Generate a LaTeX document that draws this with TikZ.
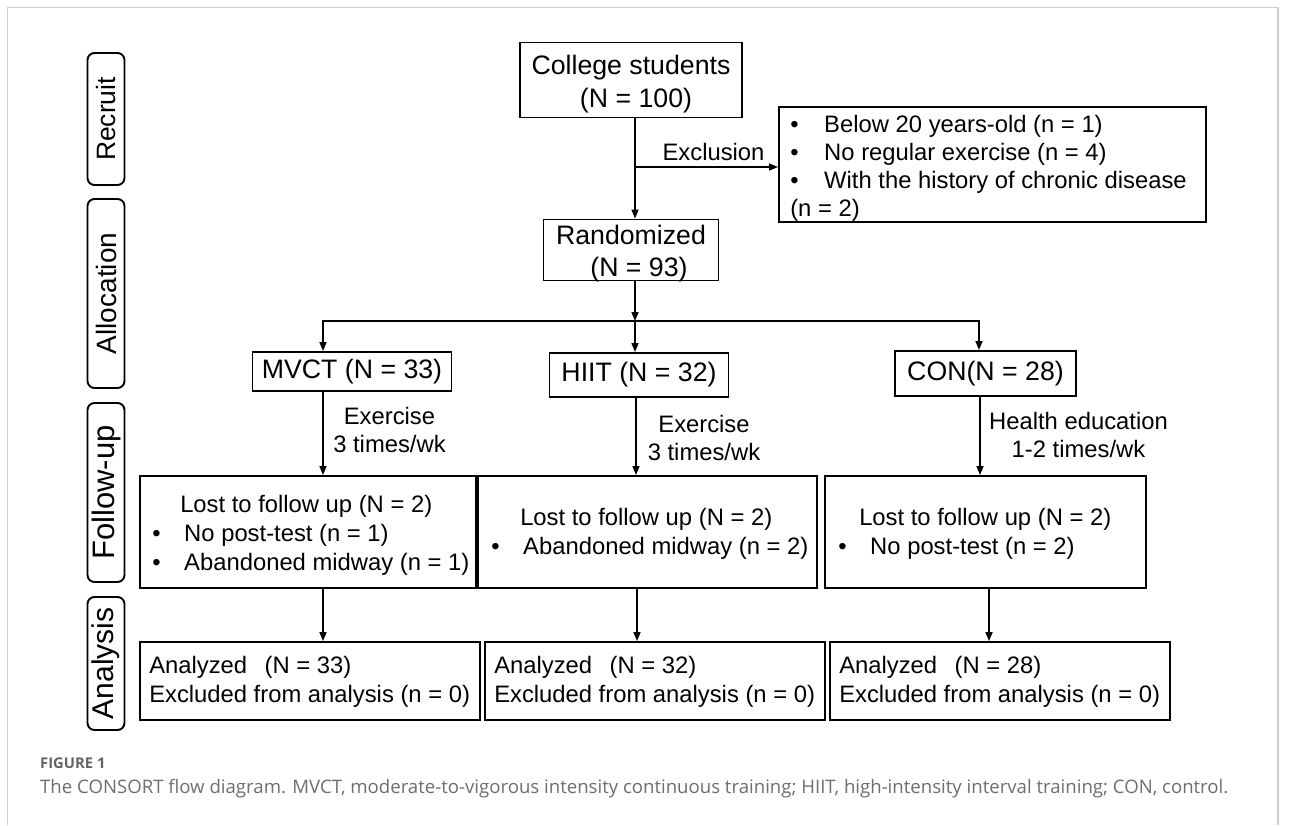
\documentclass[tikz,border=0pt]{standalone}
\usepackage{fontspec}
\setmainfont{Liberation Sans}
\newfontfamily\capfont{Open Sans}
\usetikzlibrary{arrows.meta,calc}
\definecolor{framegray}{RGB}{205,205,205}
\definecolor{capgray}{RGB}{110,110,110}
\definecolor{figgray}{RGB}{100,100,100}
\newcommand{\bul}[1]{\makebox[#1][l]{•}}
\tikzset{
  box/.style={draw, line width=1.9pt, inner sep=0pt, rectangle},
  side/.style={draw, line width=1.9pt, rounded corners=7pt, minimum height=37pt, inner sep=0pt, rotate=90},
  arr/.style={line width=1.6pt, -{Triangle[length=9pt,width=7pt]}},
  big/.style={font=\fontsize{26.7}{32.5}\selectfont},
  small/.style={font=\fontsize{23.8}{28.5}\selectfont},
  txt/.style={small, align=left, anchor=west, inner sep=0pt},
}
\begin{document}
\begin{tikzpicture}[x=1pt,y=-1pt]
\useasboundingbox (0,0) rectangle (1293,825);
\fill[white] (0,0) rectangle (1293,825);
\draw[framegray, line width=1.5pt] (7.5,825) -- (7.5,7.5) -- (1278,7.5) -- (1278,825);

% stage labels
\node[side, minimum width=132pt, font=\fontsize{26.5}{30}\selectfont] (recruit) at (106,119) {Recruit};
\node[side, minimum width=189pt, font=\fontsize{28}{32}\selectfont] (alloc) at (106,293.5) {Allocation};
\node[side, minimum width=179pt, font=\fontsize{31}{34}\selectfont] (follow) at (106,492.5) {Follow-up};
\node[side, minimum width=133pt, font=\fontsize{30}{34}\selectfont] (analysis) at (106,663.5) {Analysis};

% top boxes
\node[box, minimum width=222pt, minimum height=75pt] (college) at (631,80) {};
\node[big, align=center, inner sep=0pt] (collegetxt) at ($(college.center)+(0,4)$) {College students\\\hspace*{10pt}(N = 100)};
\node[box, minimum width=175pt, minimum height=61pt] (rand) at (631,250) {};
\node[big, align=center, inner sep=0pt] (randtxt) at ($(rand.center)+(0,3.5)$) {Randomized\\\hspace*{16pt}(N = 93)};
\node[box, minimum width=427pt, minimum height=115pt] (excl) at (992.5,164.5) {};
\node[txt, font=\fontsize{23.8}{28}\selectfont] (exclt) at ($(excl.west)+(12,3.5)$) {\bul{34pt}Below 20 years-old (n = 1)\\\bul{34pt}No regular exercise (n = 4)\\\bul{34pt}With the history of chronic disease\\(n = 2)};

% group boxes
\node[box, big, minimum width=199pt, minimum height=39pt] (mvct) at (352,371.5) {MVCT (N = 33)};
\node[box, big, minimum width=179pt, minimum height=44pt] (hiit) at (639,375) {HIIT (N = 32)};
\node[box, big, minimum width=181pt, minimum height=45pt] (con) at (985.5,373.5) {CON(N = 28)};

% follow-up boxes
\node[box, minimum width=336pt, minimum height=112pt] (fu1) at (308,532) {};
\node[box, minimum width=339pt, minimum height=112pt] (fu2) at (647.5,532) {};
\node[box, minimum width=321pt, minimum height=112pt] (fu3) at (985.5,532) {};
\node[txt, font=\fontsize{23.8}{29}\selectfont] (fu1t) at ($(fu1.west)+(13,3)$) {\hspace*{28pt}Lost to follow up (N = 2)\\\bul{32pt}No post-test (n = 1)\\\bul{32pt}Abandoned midway (n = 1)};
\node[txt] (fu2t) at ($(fu2.west)+(14,2)$) {\hspace*{29pt}Lost to follow up (N = 2)\\\bul{32pt}Abandoned midway (n = 2)};
\node[txt] (fu3t) at ($(fu3.west)+(14,2)$) {\hspace*{21pt}Lost to follow up (N = 2)\\\bul{32pt}No post-test (n = 2)};

% analysis boxes
\node[box, minimum width=340pt, minimum height=78pt] (an1) at (310,681) {};
\node[box, minimum width=340pt, minimum height=78pt] (an2) at (655,681) {};
\node[box, minimum width=340pt, minimum height=78pt] (an3) at (1000,681) {};
\node[txt] (an1t) at ($(an1.west)+(10,1)$) {Analyzed\hspace{17.5pt}(N = 33)\\Excluded from analysis (n = 0)};
\node[txt] (an2t) at ($(an2.west)+(10,1)$) {Analyzed\hspace{17.5pt}(N = 32)\\Excluded from analysis (n = 0)};
\node[txt] (an3t) at ($(an3.west)+(10,1)$) {Analyzed\hspace{17.5pt}(N = 28)\\Excluded from analysis (n = 0)};

% connector labels
\node[small, anchor=base, inner sep=0pt] (exlab) at (713.5,160) {Exclusion};
\node[small, align=center, inner sep=0pt] (ex1) at (389.5,430) {Exercise\\3 times/wk};
\node[small, align=center, inner sep=0pt] (ex2) at (704,438) {Exercise\\3 times/wk};
\node[small, align=center, inner sep=0pt] (ex3) at (1078.5,435) {Health education\\1-2 times/wk};

% connectors
\coordinate (cx) at (635,0);
\coordinate (exy) at (635,167);
\coordinate (barl) at (323,321);
\coordinate (barc) at (635,321);
\coordinate (barr) at (979,321);
\coordinate (hx) at (636,0);
\coordinate (cn) at (980,0);
\coordinate (d1) at (323,0);
\coordinate (d2) at (637,0);
\coordinate (d3) at (989,0);
\draw[arr] (college.south -| cx) -- (rand.north -| cx);
\draw[arr] (exy) -- (exy -| excl.west);
\draw[arr] (rand.south -| cx) -- (barc);
\draw[arr] (barc) -| (mvct.north -| barl);
\draw[arr] (barc) -| (con.north -| barr);
\draw[arr] (barc) -- (hiit.north -| barc);
\draw[arr] (mvct.south -| barl) -- (fu1.north -| barl);
\draw[arr] (hiit.south -| hx) -- (fu2.north -| hx);
\draw[arr] (con.south -| cn) -- (fu3.north -| cn);
\draw[arr] (fu1.south -| d1) -- (an1.north -| d1);
\draw[arr] (fu2.south -| d2) -- (an2.north -| d2);
\draw[arr] (fu3.south -| d3) -- (an3.north -| d3);

% caption
\node[anchor=base west, inner sep=0pt, font=\capfont\bfseries\fontsize{14.8}{17}\selectfont, text=figgray] (figlabel) at (40,768) {FIGURE 1};
\node[anchor=base west, inner sep=0pt, font=\capfont\fontsize{18.6}{22}\selectfont, text=capgray] (caption) at (40,793) {The CONSORT flow diagram. MVCT, moderate-to-vigorous intensity continuous training; HIIT, high-intensity interval training; CON, control.};
\end{tikzpicture}
\end{document}
